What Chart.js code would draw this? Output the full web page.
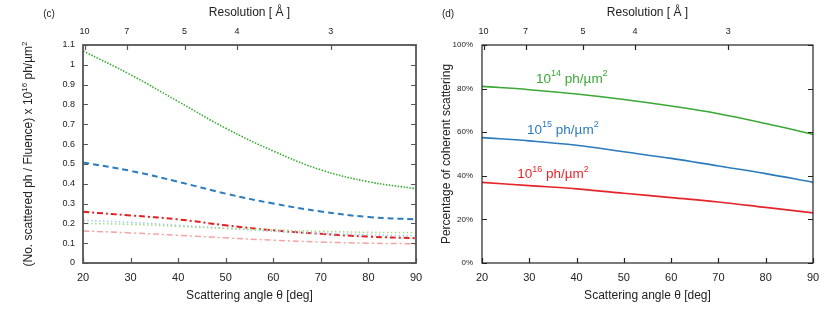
<!DOCTYPE html>
<html>
<head>
<meta charset="utf-8">
<script src="https://cdn.jsdelivr.net/npm/chart.js@4"></script>
<style>
  body { margin: 0; background: #fff; }
  #wrap { position: relative; width: 830px; height: 310px; }
  .panel { position: absolute; top: 0; height: 310px; }
</style>
</head>
<body>
<div id="wrap">
  <div class="panel" style="left:0;width:430px"><canvas id="chartC"></canvas></div>
  <div class="panel" style="left:418px;width:412px"><canvas id="chartD"></canvas></div>
</div>
<script>
// scattering angles (deg) shared by every curve
const angles = [20, 30, 40, 50, 60, 70, 80, 90];

// panel (c): scattered photons / fluence
const greenDotted = [1.07, 0.95, 0.815, 0.68, 0.565, 0.47, 0.41, 0.375];
const blueDashed = [0.507, 0.465, 0.41, 0.35, 0.30, 0.26, 0.232, 0.22];
const redDashDot = [0.258, 0.24, 0.22, 0.19, 0.165, 0.147, 0.133, 0.125];
const lightBlueDotted = [0.215, 0.205, 0.19, 0.175, 0.16, 0.15, 0.142, 0.137];
const lightGreenDotted = [0.2, 0.195, 0.185, 0.175, 0.167, 0.16, 0.155, 0.153];
const pinkDashDot = [0.162, 0.152, 0.14, 0.127, 0.115, 0.106, 0.1, 0.097];

// panel (d): percentage of coherent scattering
const pct14 = [81, 79.5, 77.5, 75, 72, 68.5, 64, 59];
const pct15 = [57.5, 56, 54, 51, 48, 44.5, 41, 37];
const pct16 = [37, 35.5, 34, 32, 30, 28, 25.5, 23];
const doseLabels = ['14', '15', '16'];
const doseLabelAngles = [39.0, 37.1, 35.0];
const doseLabelLevels = [84.4, 61.1, 40.5];

// top axis: resolution in Angstrom
const resolutionTicks = [10, 7, 5, 4, 3];
const wavelength = 3.53;

const FONT = '"Liberation Sans", Arial, sans-serif';
const GREEN = '#3aa935';
const BLUE = '#2b7bbd';
const RED = '#e4262b';

function angleFor(d) {
  return 2 * Math.asin(wavelength / (2 * d)) * 180 / Math.PI;
}

function pts(ys) {
  return ys.map((y, i) => ({ x: angles[i], y: y }));
}

// draw text with superscript parts: [[text, isSup], ...]
function richText(ctx, parts, x, y, size, color) {
  const supSize = Math.round(size * 0.68);
  let total = 0;
  parts.forEach(p => {
    ctx.font = (p[1] ? supSize : size) + 'px ' + FONT;
    total += ctx.measureText(p[0]).width;
  });
  let cx = x - total / 2;
  ctx.fillStyle = color;
  ctx.textBaseline = 'middle';
  ctx.textAlign = 'left';
  parts.forEach(p => {
    ctx.font = (p[1] ? supSize : size) + 'px ' + FONT;
    ctx.fillText(p[0], cx, p[1] ? y - size * 0.38 : y);
    cx += ctx.measureText(p[0]).width;
  });
}

function frameAndTicks(frameColor, frameWidth) {
  return {
    id: 'frame',
    afterDatasetsDraw(chart) {
      const ctx = chart.ctx;
      const a = chart.chartArea;
      ctx.save();
      ctx.strokeStyle = frameColor;
      ctx.lineWidth = frameWidth;
      ctx.strokeRect(a.left, a.top, a.right - a.left, a.bottom - a.top);
      ctx.lineWidth = 1.2;
      ctx.beginPath();
      chart.scales.y.ticks.forEach(t => {
        const py = Math.round(chart.scales.y.getPixelForValue(t.value)) + 0.5;
        ctx.moveTo(a.left, py); ctx.lineTo(a.left + 5, py);
        ctx.moveTo(a.right, py); ctx.lineTo(a.right - 5, py);
      });
      chart.scales.x.ticks.forEach(t => {
        const px = Math.round(chart.scales.x.getPixelForValue(t.value)) + 0.5;
        ctx.moveTo(px, a.bottom); ctx.lineTo(px, a.bottom - 5);
      });
      chart.scales.x2.ticks.forEach(t => {
        const px = Math.round(chart.scales.x2.getPixelForValue(t.value)) + 0.5;
        ctx.moveTo(px, a.top); ctx.lineTo(px, a.top + 5);
      });
      ctx.stroke();
      ctx.restore();
    }
  };
}

function titles(tag, yParts, yTitleX) {
  return {
    id: 'titles',
    afterDraw(chart) {
      const ctx = chart.ctx;
      const a = chart.chartArea;
      const mid = (a.left + a.right) / 2;
      ctx.save();
      richText(ctx, [['Resolution [ Å ]', false]], mid, 13, 12, '#222');
      richText(ctx, [['Scattering angle θ [deg]', false]], mid, 296, 12, '#222');
      richText(ctx, [[tag, false]], a.left - 34, 14, 10, '#222');
      ctx.translate(yTitleX, (a.top + a.bottom) / 2);
      ctx.rotate(-Math.PI / 2);
      richText(ctx, yParts, 0, 0, 12, '#222');
      ctx.restore();
    }
  };
}

function fixSize(w, h) {
  return function(scale) {
    if (w !== null) scale.width = w;
    if (h !== null) scale.height = h;
    scale.paddingLeft = 0;
    scale.paddingRight = 0;
    scale.paddingTop = 0;
    scale.paddingBottom = 0;
  };
}

function scalesFor(yMax, yStep, yCallback, yFontSize, yPad, yWidth) {
  return {
    x: {
      type: 'linear', position: 'bottom', min: 20, max: 90,
      grid: { display: false, drawTicks: false },
      border: { display: false },
      ticks: { stepSize: 10, padding: 8, color: '#222', maxRotation: 0, autoSkip: false,
               font: { family: FONT, size: 11 } },
      afterFit: fixSize(null, 47)
    },
    x2: {
      type: 'linear', position: 'top', min: 20, max: 90,
      grid: { display: false, drawTicks: false },
      border: { display: false },
      afterBuildTicks(scale) {
        scale.ticks = resolutionTicks.map(d => ({ value: angleFor(d) }));
      },
      ticks: { padding: 8, color: '#222', maxRotation: 0, autoSkip: false,
               font: { family: FONT, size: 9 },
               callback: (v, i) => String(resolutionTicks[i]) },
      afterFit: fixSize(null, 45)
    },
    y: {
      min: 0, max: yMax,
      grid: { display: false, drawTicks: false },
      border: { display: false },
      ticks: { stepSize: yStep, padding: yPad, color: '#222', callback: yCallback,
               font: { family: FONT, size: yFontSize } },
      afterFit: fixSize(yWidth, null)
    }
  };
}

function line(data, color, width, dash) {
  return {
    data: pts(data), borderColor: color, borderWidth: width, borderDash: dash,
    pointRadius: 0, fill: false, tension: 0.4
  };
}

new Chart(document.getElementById('chartC'), {
  type: 'line',
  data: {
    datasets: [
      line(pinkDashDot, '#f5a3a3', 1.5, [6, 3, 2, 3]),
      line(lightGreenDotted, '#a9d98f', 1.6, [1.5, 2.5]),
      line(lightBlueDotted, '#a3cbe8', 1.6, [1.5, 2.5]),
      line(redDashDot, '#e0201f', 2, [6, 3, 2, 3]),
      line(blueDashed, BLUE, 2, [6, 4]),
      line(greenDotted, '#36ac2e', 1.6, [1.5, 1.5])
    ]
  },
  options: {
    responsive: true,
    maintainAspectRatio: false,
    animation: false,
    layout: { padding: { left: 0, right: 14, top: 0, bottom: 0 } },
    plugins: { legend: { display: false }, tooltip: { enabled: false } },
    scales: scalesFor(1.1, 0.1, v => Math.round(v * 10) / 10, 9, 8, 83)
  },
  plugins: [
    frameAndTicks('#555', 1.8),
    titles('(c)', [['(No. scattered ph / Fluence) x 10', false], ['16', true], [' ph/µm', false], ['2', true]], 29)
  ]
});

const doseColors = [GREEN, BLUE, RED];

new Chart(document.getElementById('chartD'), {
  type: 'line',
  data: {
    datasets: [
      line(pct14, GREEN, 1.6, []),
      line(pct15, BLUE, 1.6, []),
      line(pct16, RED, 1.6, [])
    ]
  },
  options: {
    responsive: true,
    maintainAspectRatio: false,
    animation: false,
    layout: { padding: { left: 0, right: 17, top: 0, bottom: 0 } },
    plugins: { legend: { display: false }, tooltip: { enabled: false } },
    scales: scalesFor(100, 20, v => v + '%', 8, 9, 64)
  },
  plugins: [
    frameAndTicks('#222', 1.2),
    titles('(d)', [['Percentage of coherent scattering', false]], 29),
    {
      id: 'doseLabels',
      afterDraw(chart) {
        const ctx = chart.ctx;
        ctx.save();
        doseLabels.forEach((exp, i) => {
          const px = chart.scales.x.getPixelForValue(doseLabelAngles[i]);
          const py = chart.scales.y.getPixelForValue(doseLabelLevels[i]);
          richText(ctx, [['10', false], [exp, true], [' ph/µm', false], ['2', true]], px, py, 13.5, doseColors[i]);
        });
        ctx.restore();
      }
    }
  ]
});
</script>
</body>
</html>
